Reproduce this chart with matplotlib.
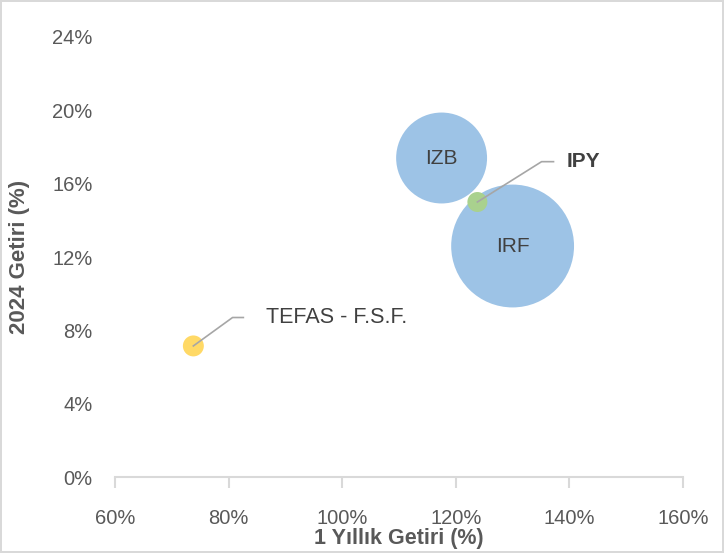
"""Bubble chart: 1-year return vs 2024 return per fund, bubble area = fund size."""
import matplotlib
matplotlib.use("Agg")
import matplotlib.pyplot as plt
from matplotlib.ticker import FuncFormatter

plt.rcParams["font.family"] = ["Liberation Sans", "DejaVu Sans"]

# data (percent)
funds = ["IZB", "IRF", "IPY", "TEFAS - F.S.F."]
ret_1y = [117.5, 130.0, 123.8, 73.8]
ret_2024 = [17.4, 12.6, 15.0, 7.15]
size = [20.7, 37.8, 1.0, 1.1]  # relative bubble area

COLORS = ["#9DC3E6", "#9DC3E6", "#A9D18E", "#FFD966"]
TXT = "#404040"
GRID = "#D9D9D9"
SCALE = 207

fig = plt.figure(figsize=(7.24, 5.53), dpi=100)
fig.patch.set_edgecolor(GRID)
fig.patch.set_linewidth(1.5)
ax = fig.add_axes([0.1588, 0.1374, 0.7846, 0.7957])

ax.scatter(ret_1y, ret_2024, s=[v * SCALE for v in size], c=COLORS,
           edgecolors="none", zorder=3, clip_on=False)

# labels inside the big bubbles
for i in (0, 1):
    ax.text(ret_1y[i], ret_2024[i], funds[i], ha="center", va="center",
            fontsize=15, color=TXT, zorder=4)

# leader-line labels for the small ones
ax.plot([ret_1y[2], 135.1, 137.2], [ret_2024[2], 17.2, 17.2],
        color="#A6A6A6", lw=1.2, zorder=4)
ax.text(139.5, 17.2, funds[2], ha="left", va="center", fontsize=15,
        fontweight="bold", color=TXT, zorder=4)
ax.plot([ret_1y[3], 80.7, 82.6], [ret_2024[3], 8.7, 8.7],
        color="#A6A6A6", lw=1.2, zorder=4)
ax.text(86.5, 8.7, funds[3], ha="left", va="center", fontsize=15.5,
        color=TXT, zorder=4)

ax.set_xlim(60, 160)
ax.set_ylim(0, 24)
ax.set_xticks(range(60, 161, 20))
ax.set_yticks(range(0, 25, 4))
pct = FuncFormatter(lambda v, _: f"{v:.0f}%")
ax.xaxis.set_major_formatter(pct)
ax.yaxis.set_major_formatter(pct)

for s in ("top", "right", "left"):
    ax.spines[s].set_visible(False)
ax.spines["bottom"].set_color(GRID)
ax.spines["bottom"].set_linewidth(1.5)
ax.tick_params(axis="x", direction="out", length=8, width=1.5, color=GRID,
               labelsize=14.5, labelcolor="#595959", pad=15)
ax.tick_params(axis="y", length=0, labelsize=14.5, labelcolor="#595959", pad=16)

ax.set_xlabel("1 Yıllık Getiri (%)", fontsize=15.5, fontweight="bold",
              color="#595959", labelpad=0)
ax.set_ylabel("2024 Getiri (%)", fontsize=16, fontweight="bold",
              color="#595959", labelpad=16)

fig.savefig("out.png", dpi=100, edgecolor=fig.get_edgecolor())
